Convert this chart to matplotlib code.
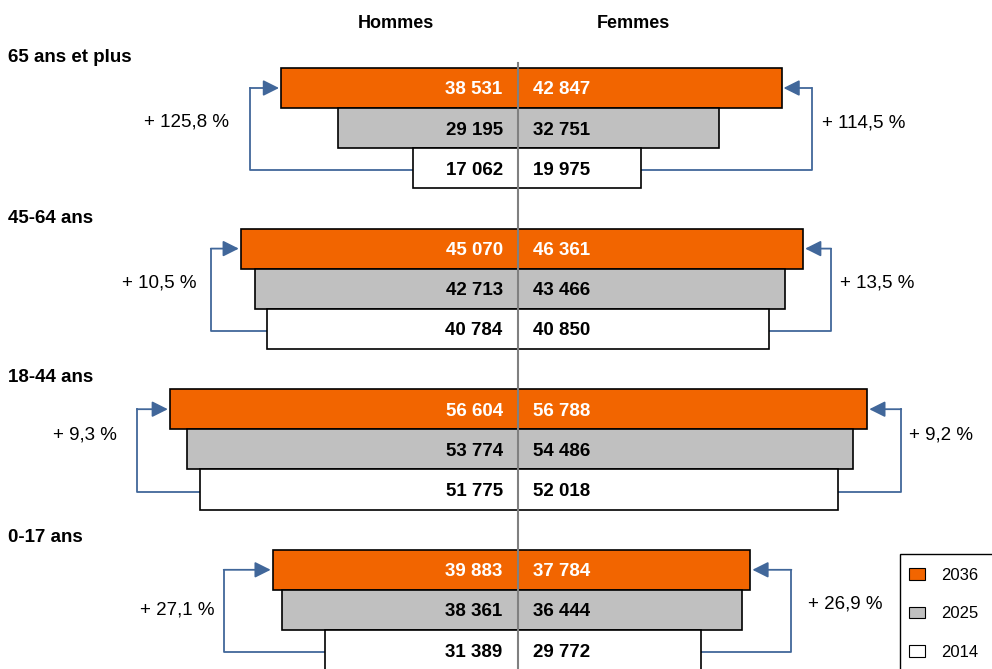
import matplotlib.pyplot as plt
from matplotlib.patches import Rectangle

plt.rcParams['font.family'] = ['Liberation Sans', 'DejaVu Sans']

# data : population by age group, men / women, three years
groups = ['65 ans et plus', '45-64 ans', '18-44 ans', '0-17 ans']
years = ['2036', '2025', '2014']
hommes_2036 = [38531, 45070, 56604, 39883]
hommes_2025 = [29195, 42713, 53774, 38361]
hommes_2014 = [17062, 40784, 51775, 31389]
femmes_2036 = [42847, 46361, 56788, 37784]
femmes_2025 = [32751, 43466, 54486, 36444]
femmes_2014 = [19975, 40850, 52018, 29772]

hommes = [hommes_2036, hommes_2025, hommes_2014]
femmes = [femmes_2036, femmes_2025, femmes_2014]
colors = ['#F26500', '#C0C0C0', 'white']
txt_colors = ['white', 'black', 'black']
arrow_col = '#41679A'

# layout (pixels)
W, H = 992, 669
CX, SCALE = 518, 0.00615   # center px, px per person
Y0, ROW = 88, 40.15        # first bar center px, row height px


def px_x(p):
    return (p - CX) / SCALE


def px_y(p):
    return (p - Y0) / ROW


def fmt(v):
    return f"{v:,}".replace(",", " ")


fig = plt.figure(figsize=(W / 100, H / 100), dpi=100)
ax = fig.add_axes([0, 0, 1, 1])
ax.set_xlim(px_x(0), px_x(W))
ax.set_ylim(px_y(H), px_y(0))
ax.axis('off')

handles = []
for k in range(3):
    ys = [4 * g + k for g in range(len(groups))]
    b = ax.barh(ys, [-v for v in hommes[k]], height=1, color=colors[k],
                edgecolor='black', lw=1.2, label=years[k], zorder=2)
    ax.barh(ys, femmes[k], height=1, color=colors[k],
            edgecolor='black', lw=1.2, zorder=2)
    handles.append(b)
    for y, vh, vf in zip(ys, hommes[k], femmes[k]):
        ax.annotate(fmt(vh), xy=(0, y), xytext=(-11, 0), textcoords='offset points',
                    ha='right', va='center_baseline', fontsize=13.5, fontweight='bold',
                    color=txt_colors[k], zorder=6)
        ax.annotate(fmt(vf), xy=(0, y), xytext=(11, 0), textcoords='offset points',
                    ha='left', va='center_baseline', fontsize=13.5, fontweight='bold',
                    color=txt_colors[k], zorder=6)

# center line
ax.plot([0, 0], [px_y(63), px_y(H)], color='#808080', lw=1.5, zorder=5)

# headers and group titles
fig.text(396 / W, 1 - 22 / H, 'Hommes', ha='center', va='center_baseline', fontsize=13, fontweight='bold')
fig.text(633 / W, 1 - 22 / H, 'Femmes', ha='center', va='center_baseline', fontsize=13, fontweight='bold')
title_y = [55, 216, 376, 535]
for g, name in enumerate(groups):
    fig.text(8 / W, 1 - title_y[g] / H, name, ha='left', va='center_baseline',
             fontsize=13.5, fontweight='bold')

# growth arrows 2014 -> 2036
left_off = [31, 30, 33, 49]
right_off = [30, 28, 34, 41]
left_lbl_x = [229, 197, 117, 214]
left_lbl_y = [120, 281, 433, 608]
right_lbl_x = [822, 840, 909, 808]
right_lbl_y = [121, 281, 433, 602]
aprops = dict(arrowstyle='-|>', color=arrow_col, lw=1.3, mutation_scale=24,
              shrinkA=0, shrinkB=0)

for g in range(len(groups)):
    y_o, y_w = 4 * g, 4 * g + 2.05
    # left (hommes)
    x_o, x_w = -hommes_2036[g], -hommes_2014[g]
    xv = x_o - left_off[g] / SCALE
    ax.plot([x_w, xv, xv], [y_w, y_w, y_o], color=arrow_col, lw=1.3, zorder=1)
    ax.annotate('', xy=(x_o - 2 / SCALE, y_o), xytext=(xv, y_o), arrowprops=aprops)
    pct = (hommes_2036[g] / hommes_2014[g] - 1) * 100
    fig.text(left_lbl_x[g] / W, 1 - left_lbl_y[g] / H, f"+ {pct:.1f} %".replace('.', ','),
             ha='right', va='center_baseline', fontsize=13.5)
    # right (femmes)
    x_o, x_w = femmes_2036[g], femmes_2014[g]
    xv = x_o + right_off[g] / SCALE
    ax.plot([x_w, xv, xv], [y_w, y_w, y_o], color=arrow_col, lw=1.3, zorder=1)
    ax.annotate('', xy=(x_o + 2 / SCALE, y_o), xytext=(xv, y_o), arrowprops=aprops)
    pct = (femmes_2036[g] / femmes_2014[g] - 1) * 100
    fig.text(right_lbl_x[g] / W, 1 - right_lbl_y[g] / H, f"+ {pct:.1f} %".replace('.', ','),
             ha='left', va='center_baseline', fontsize=13.5)

# legend (frame runs off the page like the original)
fig.patches.append(Rectangle((900 / W, -0.1), 1, 1 - 554 / H + 0.1,
                             transform=fig.transFigure, fill=False,
                             edgecolor='black', lw=1))
leg = ax.legend(handles=handles, loc='upper left', bbox_to_anchor=(909 / W, 1 - 568 / H),
                bbox_transform=fig.transFigure, frameon=False, fontsize=12,
                handlelength=0.95, handleheight=0.7, handletextpad=1.0,
                labelspacing=1.4, borderpad=0, borderaxespad=0)
for p in leg.get_patches():
    p.set_linewidth(0.8)

fig.savefig('out.png', dpi=100)
